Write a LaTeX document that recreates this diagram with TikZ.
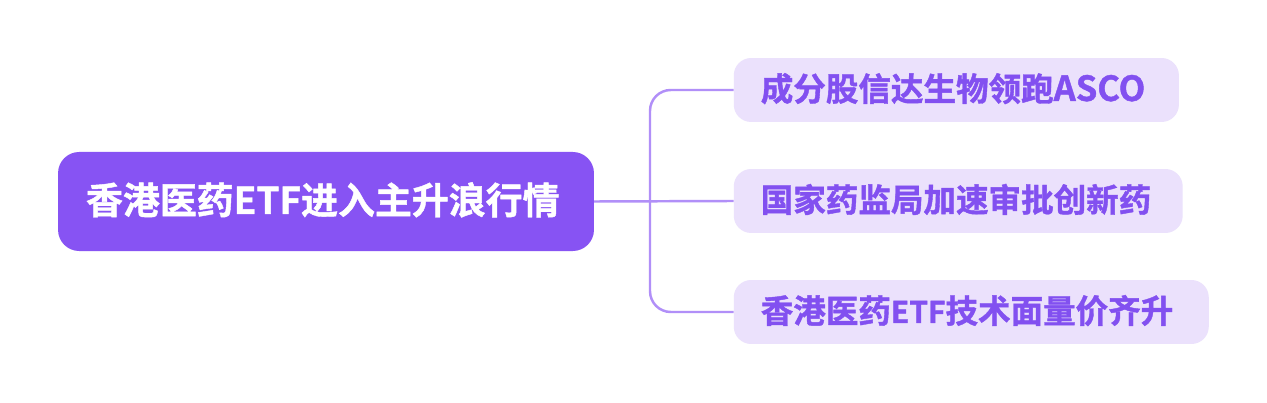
\documentclass[tikz,border=0pt]{standalone}
\usepackage{fontspec}
\setmainfont{Liberation Sans}
\newfontfamily\cjk{Noto Sans CJK SC}[BoldFont={* Bold},BoldFeatures={FakeBold=1.2}]
\usetikzlibrary{positioning}
\definecolor{rootfill}{HTML}{8753F3}
\definecolor{leaffill}{HTML}{EBE1FC}
\definecolor{leaftext}{HTML}{8250F0}
\definecolor{linkcol}{HTML}{B18FF8}
\tikzset{
rootbox/.style={fill=rootfill,rounded corners=0.56cm,text=white,font=\cjk\bfseries\fontsize{27.8pt}{32pt}\selectfont,inner xsep=0.74cm,inner ysep=0,text width=12.7cm,text height=0.9cm,text depth=0.24cm,align=left,minimum height=2.62cm},
leafbox/.style={fill=leaffill,rounded corners=0.46cm,text=leaftext,font=\cjk\bfseries\fontsize{24.5pt}{29pt}\selectfont,inner xsep=0.714cm,inner ysep=0,text height=0.8cm,text depth=0.22cm,align=left,minimum height=1.693cm,anchor=west},
link/.style={draw=linkcol,line width=0.065cm,rounded corners=0.55cm}
}
\begin{document}
\begin{tikzpicture}[x=0.02646cm,y=-0.02646cm]
\useasboundingbox[fill=white] (0,0) rectangle (1267,403);
\node[rootbox] (root) at (326,201.5) {香港医药ETF进入主升浪行情};
\node[leafbox,text width=10.35cm] (lead) at (733.5,90) {成分股信达生物领跑{\fontsize{26pt}{29pt}\selectfont ASCO}};
\node[leafbox,text width=10.45cm] (drug) at (733.5,201) {国家药监局加速审批创新药};
\node[leafbox,text width=11.14cm] (tech) at (733.5,312) {香港医药{\fontsize{22.5pt}{29pt}\selectfont ETF}技术面量价齐升};
\coordinate (fork) at (650,201);
\draw[link] (root.east) -- (drug.west);
\draw[link] (lead.west) -| (fork);
\draw[link] (tech.west) -| (fork);
\end{tikzpicture}
\end{document}
